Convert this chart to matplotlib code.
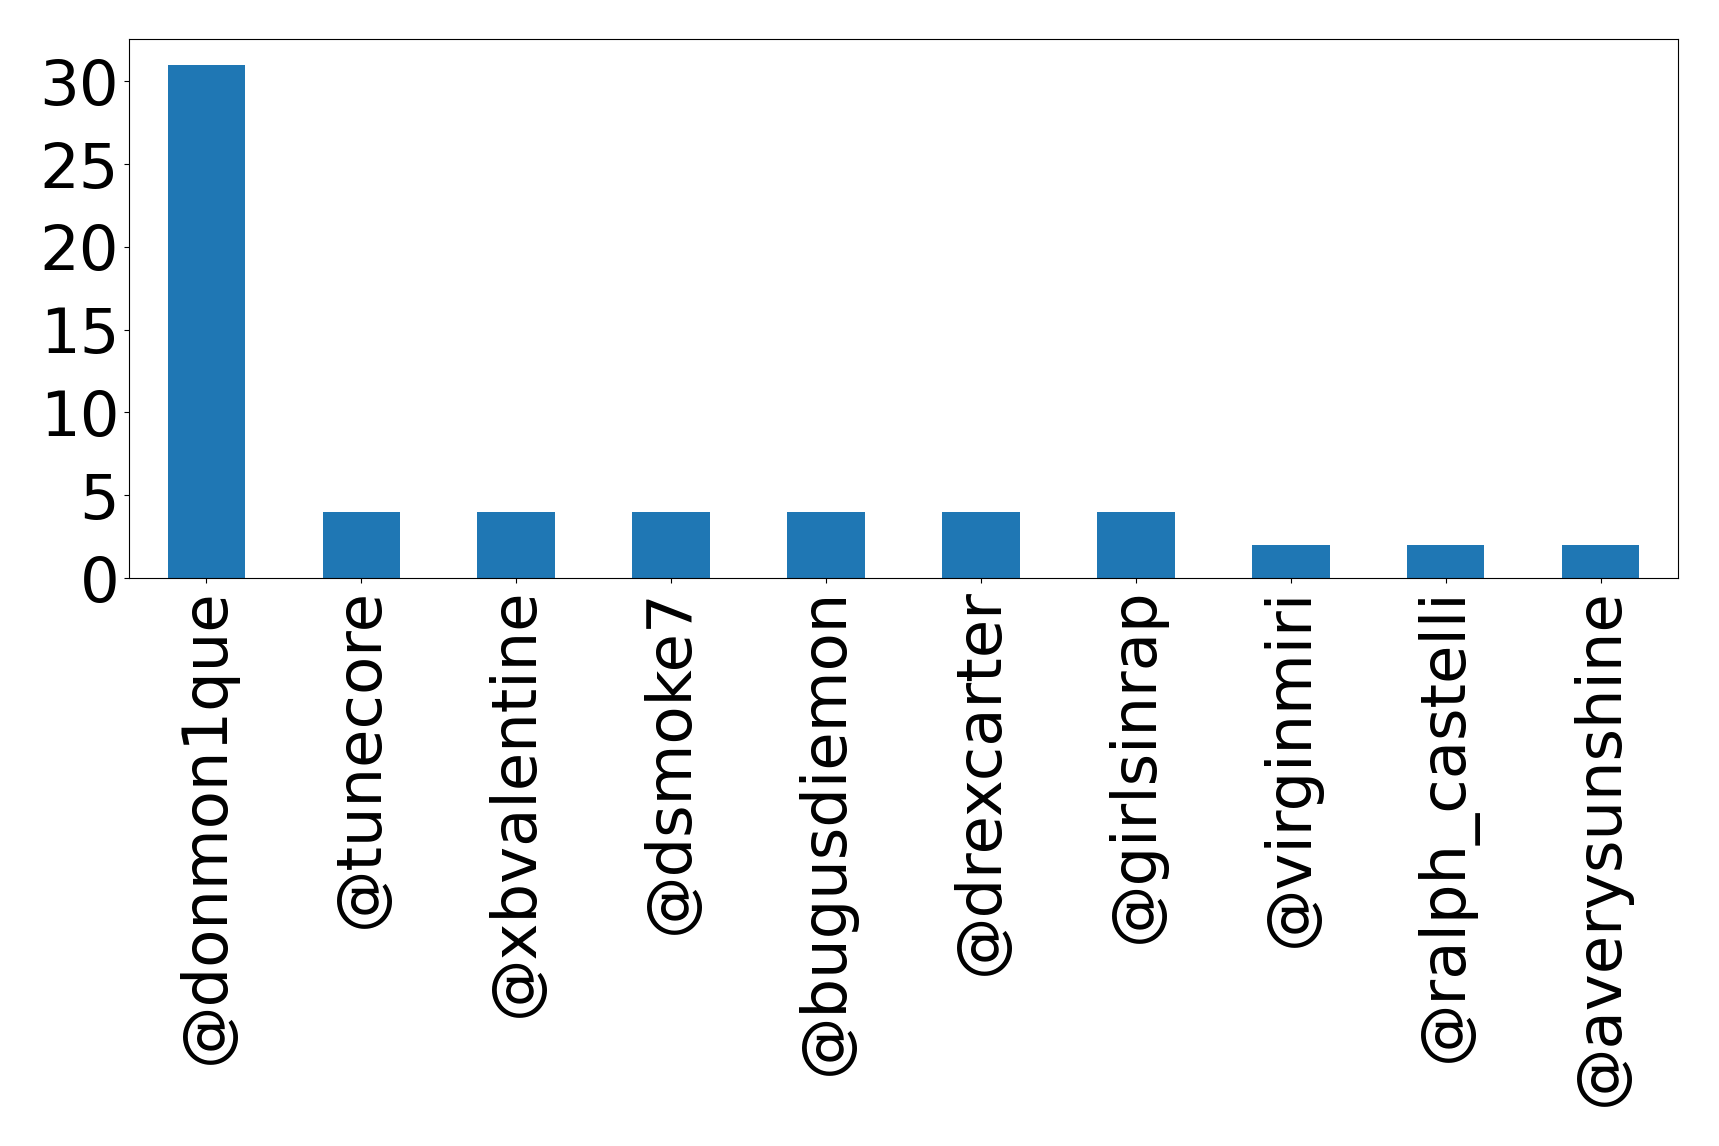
import matplotlib
matplotlib.use("Agg")
import matplotlib.pyplot as plt
import pandas as pd

# Mention counts per account
accounts = ["@donmon1que", "@tunecore", "@xbvalentine", "@dsmoke7", "@bugusdiemon",
            "@drexcarter", "@girlsinrap", "@virginmiri", "@ralph_castelli", "@averysunshine"]
counts = [31, 4, 4, 4, 4, 4, 4, 2, 2, 2]

s = pd.Series(counts, index=accounts)

fig = plt.figure(figsize=(17.19, 11.46), dpi=100)
ax = fig.add_axes([0.075, 0.4956, 0.9012, 0.4704])
s.plot(kind="bar", ax=ax, fontsize=45)

plt.savefig("out.png", dpi=100)
